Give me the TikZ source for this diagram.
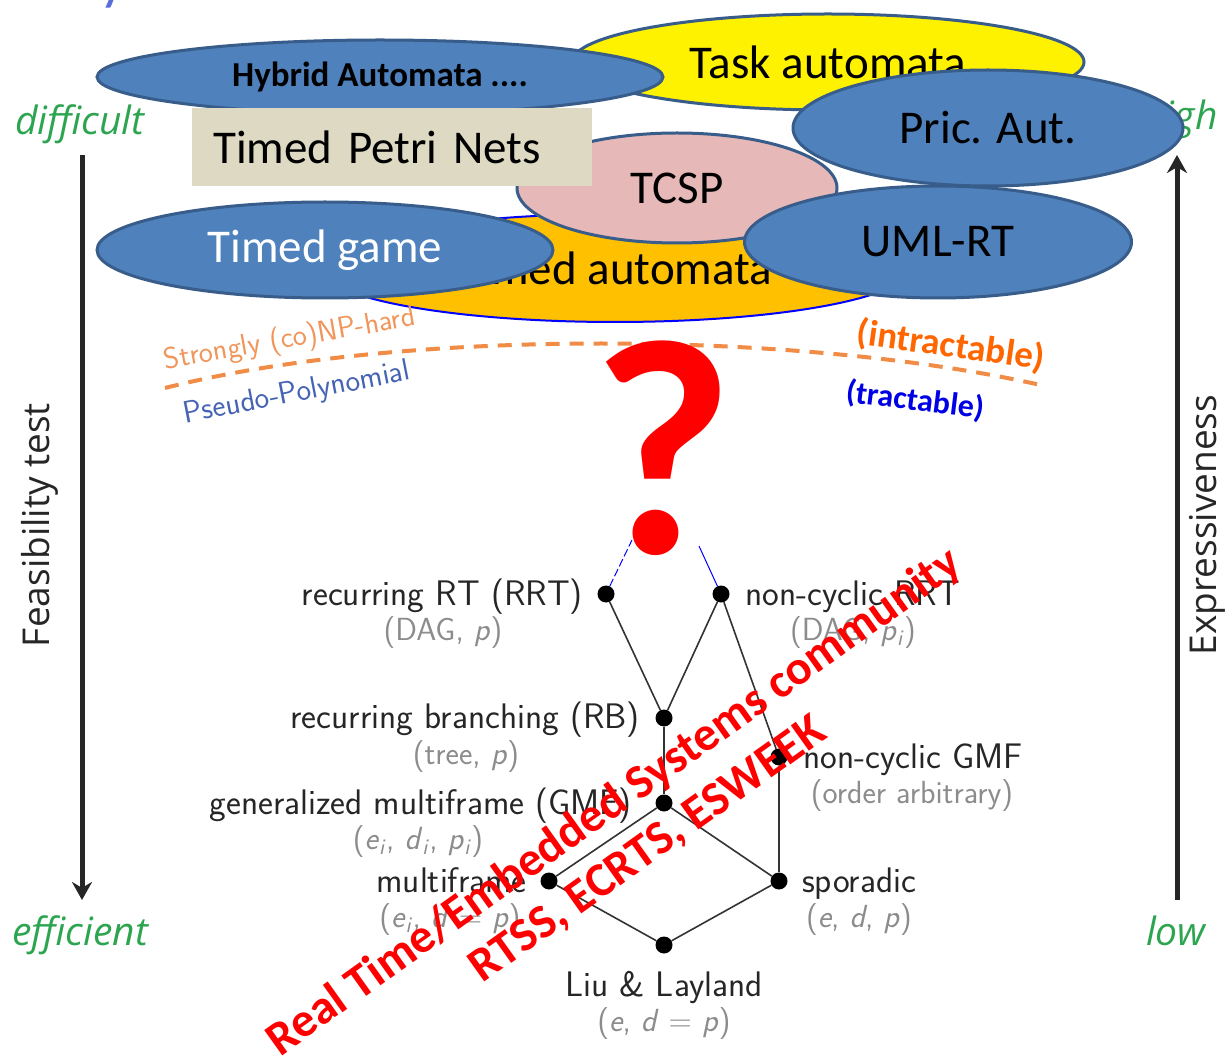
\documentclass[tikz,border=0pt]{standalone}
\usepackage{fontspec}
\newfontfamily\calfont{Carlito}
\newfontfamily\sidefont{Open Sans}
\usetikzlibrary{shapes.geometric,arrows.meta}
\definecolor{blueFill}{RGB}{79,129,189}
\definecolor{blueEdge}{RGB}{56,93,138}
\definecolor{tcspFill}{RGB}{230,185,184}
\definecolor{petri}{RGB}{221,217,195}
\definecolor{taOrange}{RGB}{255,192,0}
\definecolor{grn}{RGB}{45,165,80}
\definecolor{dashOr}{RGB}{240,140,70}
\definecolor{intr}{RGB}{255,102,0}
\definecolor{trac}{RGB}{0,0,230}
\definecolor{pseudo}{RGB}{70,100,180}
\definecolor{strongc}{RGB}{240,150,90}
\definecolor{graytxt}{RGB}{140,140,140}
\definecolor{titleblue}{RGB}{90,110,215}
\tikzset{
  model/.style={ellipse, draw=blueEdge, line width=3pt, inner sep=0pt, font=\calfont\fontsize{47}{54}\selectfont},
  gdot/.style={circle, fill=black, minimum size=17pt, inner sep=0pt},
  lab/.style={inner sep=0pt, font=\sffamily\fontsize{35.5}{40}\selectfont, text=black!85},
  sublab/.style={inner sep=0pt, font=\sffamily\fontsize{32}{36}\selectfont, text=graytxt},
  gedge/.style={line width=1.6pt, draw=black!80},
  bigarrow/.style={line width=5pt, draw=black!85, -{Stealth[length=18pt,width=20pt]}},
  sidelab/.style={inner sep=0pt, font=\sidefont\itshape\fontsize{39}{44}\selectfont, text=grn},
  axislab/.style={inner sep=0pt, font=\sidefont\fontsize{37}{42}\selectfont, text=black!85, rotate=90}
}
\begin{document}
\begin{tikzpicture}[x=1pt,y=-1pt]
\useasboundingbox (0,0) rectangle (1229,1056);
\fill[white] (0,0) rectangle (1229,1056);
% cut-off title
\node[anchor=base east, inner sep=0pt, text=titleblue, font=\calfont\fontsize{60}{66}\selectfont] (title) at (385,-1) {Variety of Models};
% side axes
\node[sidelab, anchor=base] (difficult) at (80,135) {difficult};
\node[sidelab, anchor=base] (efficient) at (80,945) {efficient};
\node[sidelab, anchor=base] (high) at (1180,130) {high};
\node[sidelab, anchor=base] (low) at (1176,945) {low};
\coordinate (fTop) at (82,155);
\coordinate (fBot) at (82,900);
\coordinate (eBot) at (1177,900);
\coordinate (eTop) at (1177,155);
\draw[bigarrow] (fTop) -- (fBot);
\draw[bigarrow] (eBot) -- (eTop);
\node[axislab] (feas) at (40,525) {Feasibility test};
\node[axislab] (expr) at (1207,525) {Expressiveness};
% model ellipses
\node[model, fill=yellow, minimum width=512pt, minimum height=96pt] (task) at (828,62) {Task automata};
\node[ellipse, draw=blue, line width=2pt, fill=taOrange, inner sep=0pt, minimum width=590pt, minimum height=108pt, font=\calfont\fontsize{47}{54}\selectfont] (ta) at (615,268) {Timed automata};
\node[model, fill=tcspFill, minimum width=320pt, minimum height=110pt] (tcsp) at (677,188) {TCSP};
\node[model, fill=blueFill, minimum width=566pt, minimum height=74pt, font=\calfont\bfseries\fontsize{35}{40}\selectfont] (hyb) at (380,77) {Hybrid Automata ....};
\node[anchor=west, fill=petri, text width=358pt, align=left, inner xsep=21pt, inner ysep=0pt, minimum height=78pt, font=\calfont\fontsize{47}{54}\selectfont] (tpn) at (192,147) {Timed Petri Nets};
\node[model, fill=blueFill, text=white, minimum width=456pt, minimum height=96pt] (game) at (325,250) {Timed game};
\node[model, fill=blueFill, minimum width=387pt, minimum height=112pt] (uml) at (938,242) {UML-RT};
\node[model, fill=blueFill, minimum width=390pt, minimum height=116pt] (pric) at (988,128) {Pric. Aut.};
% complexity boundary
\coordinate (dL) at (165,388);
\coordinate (dR) at (1045,386);
\draw[dashOr, line width=4pt, dash pattern=on 14pt off 10pt] (dL) .. controls (400,328) and (800,330) .. (dR);
\node[inner sep=0pt, rotate=10, text=strongc, font=\sffamily\fontsize{30}{34}\selectfont] (strong) at (290,340) {Strongly (co)NP-hard};
\node[inner sep=0pt, rotate=11, text=pseudo, font=\sffamily\fontsize{31}{34}\selectfont] (pseudo) at (297,394) {Pseudo-Polynomial};
\node[inner sep=0pt, rotate=-8, text=intr, font=\calfont\bfseries\fontsize{37}{42}\selectfont] (intract) at (951,346) {(intractable)};
\node[inner sep=0pt, rotate=-7, text=trac, font=\calfont\bfseries\fontsize{32}{36}\selectfont] (tract) at (915,401) {(tractable)};
% task model graph
\node[gdot] (rrt) at (606,594) {};
\node[gdot] (ncrrt) at (721,594) {};
\node[gdot] (rb) at (664,718) {};
\node[gdot] (ncgmf) at (779,757) {};
\node[gdot] (gmf) at (664,803) {};
\node[gdot] (mf) at (549,881) {};
\node[gdot] (spor) at (779,881) {};
\node[gdot] (ll) at (664,945) {};
\coordinate (upL) at (632,540);
\coordinate (upR) at (699,546);
\draw[blue, line width=1pt, dash pattern=on 8pt off 3pt] (rrt) -- (upL);
\draw[blue, line width=1pt] (ncrrt) -- (upR);
\draw[gedge] (rrt) -- (rb);
\draw[gedge] (ncrrt) -- (rb);
\draw[gedge] (ncrrt) -- (ncgmf);
\draw[gedge] (rb) -- (gmf);
\draw[gedge] (gmf) -- (mf);
\draw[gedge] (gmf) -- (spor);
\draw[gedge] (ncgmf) -- (spor);
\draw[gedge] (mf) -- (ll);
\draw[gedge] (spor) -- (ll);
\node[lab, anchor=base east] (lrrt) at (583,605) {recurring RT (RRT)};
\node[sublab, anchor=base] (srrt) at (443,640) {(DAG, \textit{p})};
\node[lab, anchor=base west] (lncrrt) at (745,605) {non-cyclic RRT};
\node[sublab, anchor=base] (sncrrt) at (853,640) {(DAG, \textit{p}\textsubscript{\textit{i}})};
\node[lab, anchor=base east] (lrb) at (640,728) {recurring branching (RB)};
\node[sublab, anchor=base] (srb) at (466,764) {(tree, \textit{p})};
\node[lab, anchor=base west] (lncgmf) at (803,768) {non-cyclic GMF};
\node[sublab, anchor=base] (sncgmf) at (912,803) {(order arbitrary)};
\node[lab, anchor=base east] (lgmf) at (632,814) {generalized multiframe (GMF)};
\node[sublab, anchor=base] (sgmf) at (418,849) {(\textit{e}\textsubscript{\textit{i}}, \textit{d}\textsubscript{\textit{i}}, \textit{p}\textsubscript{\textit{i}})};
\node[lab, anchor=base east] (lmf) at (527,892) {multiframe};
\node[sublab, anchor=base] (smf) at (450,927) {(\textit{e}\textsubscript{\textit{i}}, \textit{d} = \textit{p})};
\node[lab, anchor=base west] (lspor) at (802,892) {sporadic};
\node[sublab, anchor=base] (sspor) at (859,927) {(\textit{e}, \textit{d}, \textit{p})};
\node[lab, anchor=base] (lll) at (664,996) {Liu \& Layland};
\node[sublab, anchor=base] (sll) at (664,1031) {(\textit{e}, \textit{d} = \textit{p})};
% question mark
\node[inner sep=0pt, anchor=base, text=red, font=\calfont\bfseries\fontsize{308}{308}\selectfont] (qm) at (663,553) {?};
% community overlay
\node[inner sep=0pt, rotate=35.5, text=red, align=center, font=\calfont\bfseries\fontsize{48}{58}\selectfont] (rt) at (631,826) {Real Time/Embedded Systems community\\RTSS, ECRTS, ESWEEK};
\end{tikzpicture}
\end{document}
